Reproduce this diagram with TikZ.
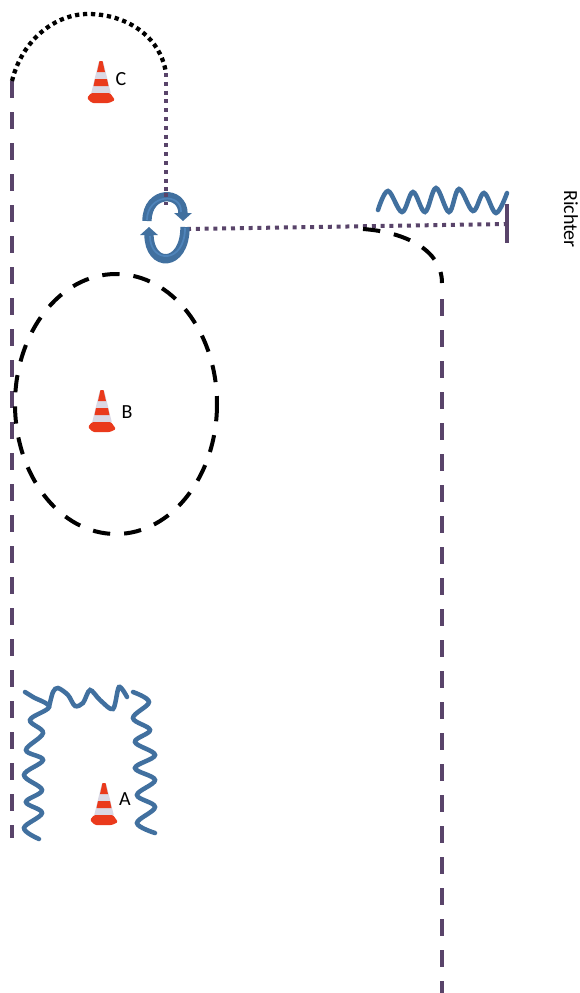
\documentclass[tikz,border=0pt]{standalone}
\usepackage{fontspec}
\setmainfont{Carlito}
\usetikzlibrary{arrows.meta}
\definecolor{wavecol}{HTML}{41709F}
\definecolor{arrowin}{HTML}{4F84BA}
\definecolor{routecol}{HTML}{59446A}
\definecolor{conered}{HTML}{EA3A1C}
\definecolor{conegray}{HTML}{DAD8E4}

\begin{document}
\begin{tikzpicture}[x=0.75pt, y=-0.75pt,
    routedash/.style={routecol, line width=2.7pt, dash pattern=on 12.75pt off 10.5pt},
    routedot/.style={routecol, line width=3pt, dash pattern=on 3pt off 3.6pt},
    blackdash/.style={black, line width=3pt, dash pattern=on 13pt off 10.5pt},
    blackdot/.style={black, line width=3.2pt, dash pattern=on 3.2pt off 2.8pt},
    wave/.style={wavecol, line width=3.4pt, line cap=round},
    turn/.style={wavecol, line width=7pt, -{Triangle[width=13pt, length=6pt]}},
    turnin/.style={arrowin, line width=1.3pt},
    label/.style={font=\fontsize{15}{18}\selectfont, inner sep=0pt},
    cone/.pic={
        \fill[conegray, rounded corners=1pt] (-2,-39) -- (2,-39) -- (10,-6) -- (-10,-6) -- cycle;
        \fill[conered] (-1.5,-39) -- (1.5,-39) -- (4,-28) -- (-4,-28) -- cycle;
        \fill[conered] (-6,-21) -- (6,-21) -- (7.5,-14) -- (-7.5,-14) -- cycle;
        \fill[conered, rounded corners=1pt] (-10,-7) -- (9,-7) -- (14,0) -- (8,3) -- (-9,3) -- (-14,-2) -- cycle;
    }]
    \useasboundingbox (0,0) rectangle (579,993);

    \coordinate (leftTop) at (12,81);
    \coordinate (leftEnd) at (12,838);
    \coordinate (arcEnd) at (166,73);
    \coordinate (turnTop) at (166,205);
    \coordinate (turnRight) at (187,229);
    \coordinate (wall) at (507,224);
    \coordinate (wallTop) at (507,204);
    \coordinate (wallEnd) at (507,243);
    \coordinate (bendStart) at (363,229);
    \coordinate (bendEnd) at (442,283);
    \coordinate (rightTop) at (442,299);
    \coordinate (rightEnd) at (442,993);
    \coordinate (ringB) at (116,404);

    % route
    \draw[routedash] (leftTop) -- (leftEnd);
    \draw[blackdot] (leftTop) .. controls (22,40) and (55,14) .. (88,14)
        .. controls (125,14) and (160,35) .. (arcEnd);
    \draw[routedot] (arcEnd) -- (turnTop);
    \draw[routedot] (turnRight) -- (wall);
    \draw[routecol, line width=2.7pt] (wallTop) -- (wallEnd);
    \draw[blackdash] (bendStart) .. controls (405,232) and (442,250) .. (bendEnd);
    \draw[routedash] (rightTop) -- (rightEnd);
    \draw[blackdash] (ringB) ellipse [x radius=101, y radius=130];

    % turning arrows
    \draw[turn] (147,221) .. controls (147,190) and (183,190) .. (183,221);
    \draw[turnin] (147,220) .. controls (147,194) and (182,192) .. (181,212);
    \draw[turn] (185,227) .. controls (185,268) and (149,268) .. (149,227);
    \draw[turnin] (185,228) .. controls (185,264) and (150,264) .. (150,236);
    \draw[routedot] (166,193) -- (turnTop);

    % waves
    \draw[wave] plot[smooth, tension=0.6] coordinates {(378,210) (388,191) (402,212) (413,192) (425,212) (436,188) (449,212) (459,189) (473,211) (484,193) (496,213) (507,193)};
    \draw[wave] plot[smooth, tension=0.6] coordinates {(25,692) (33,697) (49,707) (30,720) (43,733) (26,750) (43,760) (24,775) (42,790) (26,802) (42,813) (24,828) (39,839)};
    \draw[wave] plot[smooth, tension=0.5] coordinates {(49,707) (53,692) (58,688) (68,695) (75,706) (83,703) (90,690) (100,700) (113,709) (119,687) (127,697)};
    \draw[wave] plot[smooth, tension=0.6] coordinates {(133,692) (149,702) (133,718) (150,730) (135,742) (155,755) (135,768) (155,780) (137,795) (155,807) (137,823) (155,833)};

    % cones
    \foreach \i/\px/\py in {C/101/100, B/102/429, A/104/822}
        \pic (cone\i) at (\px,\py) {cone};

    \node[label] (labelC) at (121,79) {C};
    \node[label] (labelB) at (127,412) {B};
    \node[label] (labelA) at (125,799) {A};
    \node[label, rotate=-90] (richter) at (571,219) {Richter};
\end{tikzpicture}
\end{document}
